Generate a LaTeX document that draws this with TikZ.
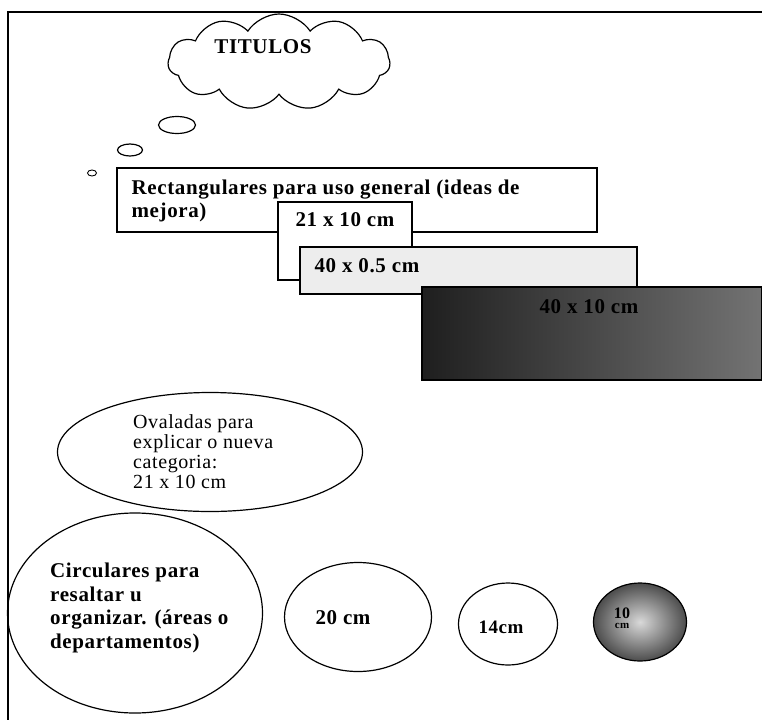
\documentclass[tikz,border=0pt]{standalone}
\usepackage{fontspec}
\setmainfont{Liberation Serif}[LetterSpace=3]
\usetikzlibrary{positioning, shapes.geometric, shapes.symbols}

\begin{document}
\begin{tikzpicture}[
    x=1pt, y=-1pt,
    marco/.style={line width=1.2pt},
    caja/.style={draw, rectangle, line width=1.2pt, fill=white, inner sep=0pt},
    globo/.style={draw, ellipse, line width=1.2pt, inner sep=0pt},
    negrita/.style={font=\bfseries\fontsize{21}{23.5}\selectfont, inner sep=0pt, align=left},
    texto/.style={font=\fontsize{20}{20}\selectfont, inner sep=0pt, align=left}
]
    \useasboundingbox (0,0) rectangle (762,720);

    % Page frame
    \coordinate (esq) at (8,12);
    \draw[marco] (762,12) -- (esq) -- (8,720);

    % Title cloud and its bubbles
    \node[draw, cloud, cloud puffs=11, cloud puff arc=115, aspect=2.3, line width=1.2pt,
          minimum width=222, minimum height=96] (nube) at (279,62) {};
    \node[negrita] (titulos) at (263,47) {TITULOS};
    \node[globo, minimum width=37, minimum height=17] (burbuja1) at (177,125) {};
    \node[globo, minimum width=25, minimum height=12] (burbuja2) at (130,150) {};
    \node[globo, minimum width=9, minimum height=6, line width=0.9pt] (burbuja3) at (92,173) {};

    % Rectangular cards
    \node[caja, minimum width=480, minimum height=64] (rect1) at (357,200) {};
    \node[negrita, below right=12pt and 15pt of rect1.north west] (rect1txt)
        {Rectangulares para uso general (ideas de\\mejora)};
    \node[caja, minimum width=134, minimum height=78] (rect2) at (345,241) {};
    \node[negrita, below=11pt of rect2.north] (rect2txt) {21 x 10 cm};
    \node[caja, fill=gray!14, minimum width=337, minimum height=47] (rect3) at (468.5,270.5) {};
    \node[negrita, below right=12pt and 15pt of rect3.north west] (rect3txt) {40 x 0.5 cm};
    \node[caja, left color=black!88, right color=black!55, minimum width=340, minimum height=93] (negro) at (592,333.5) {};
    \node[negrita, below=13pt of negro.north, xshift=-3pt] (negrotxt) {40 x 10 cm};

    % Oval card
    \node[globo, minimum width=305, minimum height=119] (ovalo) at (210,452) {};
    \node[texto, anchor=north west] (ovalotxt) at (133,414)
        {Ovaladas para\\explicar o nueva\\categoria:\\21 x 10 cm};

    % Circular cards
    \node[globo, minimum width=255, minimum height=200] (circ1) at (135,613) {};
    \node[negrita, anchor=north west] (circ1txt) at (50,563)
        {Circulares para\\resaltar u\\organizar. (áreas o\\departamentos)};
    \node[globo, minimum width=147, minimum height=109] (circ2) at (358,617) {};
    \node[negrita] (circ2txt) at (343,618) {20 cm};
    \node[globo, minimum width=99, minimum height=82] (circ3) at (508,624) {};
    \node[negrita, font=\bfseries\fontsize{19}{21}\selectfont] (circ3txt) at (501,627) {14cm};
    \node[globo, inner color=gray!30, outer color=black!70, minimum width=93, minimum height=78] (circ4) at (640,622) {};
    \node[negrita, font=\bfseries\fontsize{16}{18}\selectfont] (circ4a) at (622,613) {10};
    \node[negrita, font=\bfseries\fontsize{11}{12}\selectfont, below=5pt of circ4a] (circ4b) {cm};
\end{tikzpicture}
\end{document}
